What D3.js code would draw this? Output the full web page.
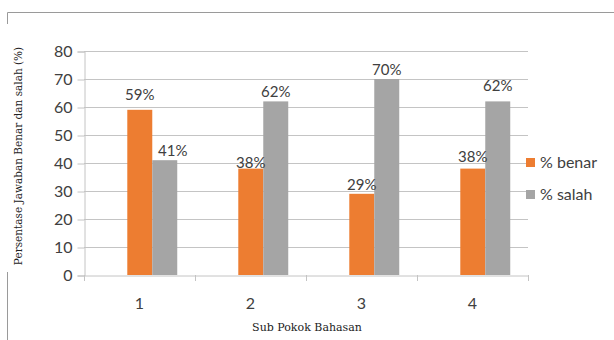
<!DOCTYPE html>
<html>
<head>
<meta charset="utf-8">
<script src="https://cdn.jsdelivr.net/npm/d3@7"></script>
<style>
  body { margin: 0; background: #fff; }
  svg { display: block; }
</style>
</head>
<body>
<div id="chart"></div>
<script>
// chart data
const categories = ["1", "2", "3", "4"];
const seriesNames = ["% benar", "% salah"];
const benar = [59, 38, 29, 38];
const salah = [41, 62, 70, 62];
const yTicks = [0, 10, 20, 30, 40, 50, 60, 70, 80];

const colors = { "% benar": "#ED7D31", "% salah": "#A5A5A5" };

// small hand tweaks of the data labels, as in the original
const labelNudge = {
  "% benar": [[0, -6], [0, 3], [0, 0], [0, -3]],
  "% salah": [[8, 0], [0, 0], [0, 0], [0, -6]]
};

const W = 614, H = 340;
const plot = { left: 84, right: 528, top: 51, bottom: 275 };

const svg = d3.select("#chart").append("svg")
  .attr("width", W)
  .attr("height", H);

// partial outer frame
svg.append("path")
  .attr("d", `M7.5,24 V12.5 H614`)
  .attr("fill", "none")
  .attr("stroke", "#9a9a9a");
svg.append("line")
  .attr("x1", 7.5).attr("x2", 7.5)
  .attr("y1", 272).attr("y2", 340)
  .attr("stroke", "#9a9a9a");

const x = d3.scaleBand()
  .domain(categories)
  .range([plot.left, plot.right]);

// bars sit a bit right of the band centre in the original
const x1 = d3.scaleBand()
  .domain(seriesNames)
  .range([x.bandwidth() * 0.39, x.bandwidth() * 0.84]);

const y = d3.scaleLinear()
  .domain([0, 80])
  .range([plot.bottom, plot.top]);

// gridlines
svg.append("g")
  .selectAll("line")
  .data(yTicks.filter(d => d > 0))
  .enter().append("line")
  .attr("x1", plot.left)
  .attr("x2", plot.right)
  .attr("y1", d => Math.round(y(d)) + 0.5)
  .attr("y2", d => Math.round(y(d)) + 0.5)
  .attr("stroke", "#c4c4c4");

// y axis
const yAxis = svg.append("g")
  .attr("transform", `translate(${plot.left + 0.5},0.5)`)
  .call(d3.axisLeft(y).tickValues(yTicks).tickSize(7).tickPadding(5));
yAxis.select(".domain").attr("stroke", "#c4c4c4");
yAxis.selectAll(".tick line").attr("stroke", "#c4c4c4");
yAxis.selectAll("text")
  .attr("fill", "#404040")
  .attr("font-family", "Lato, 'Open Sans', sans-serif")
  .attr("font-size", "16px");

// grouped data
const rows = categories.map((c, i) => ({
  cat: c,
  vals: [
    { name: seriesNames[0], value: benar[i], i: i },
    { name: seriesNames[1], value: salah[i], i: i }
  ]
}));

const groups = svg.append("g")
  .selectAll("g")
  .data(rows)
  .enter().append("g")
  .attr("transform", d => `translate(${x(d.cat)},0)`);

groups.selectAll("rect")
  .data(d => d.vals)
  .enter().append("rect")
  .attr("x", d => x1(d.name))
  .attr("y", d => y(d.value))
  .attr("width", x1.bandwidth())
  .attr("height", d => y(0) - y(d.value))
  .attr("fill", d => colors[d.name]);

groups.selectAll("text")
  .data(d => d.vals)
  .enter().append("text")
  .attr("x", d => x1(d.name) + x1.bandwidth() / 2 + labelNudge[d.name][d.i][0])
  .attr("y", d => y(d.value) - 4 + labelNudge[d.name][d.i][1])
  .attr("text-anchor", "middle")
  .attr("fill", "#404040")
  .attr("font-family", "Lato, 'Open Sans', sans-serif")
  .attr("font-size", "15px")
  .text(d => d.value + "%");

// x axis
const xAxis = svg.append("g")
  .attr("transform", `translate(0,${plot.bottom + 0.5})`)
  .call(d3.axisBottom(x).tickSize(0).tickPadding(22));
xAxis.select(".domain").attr("stroke", "#c4c4c4");
xAxis.selectAll("text")
  .attr("fill", "#404040")
  .attr("font-family", "Lato, 'Open Sans', sans-serif")
  .attr("font-size", "16px");

// category boundary ticks
svg.append("g")
  .selectAll("line")
  .data(categories.map(c => x(c)).concat([x(categories[categories.length - 1]) + x.bandwidth()]))
  .enter().append("line")
  .attr("x1", d => Math.round(d) + 0.5)
  .attr("x2", d => Math.round(d) + 0.5)
  .attr("y1", plot.bottom)
  .attr("y2", plot.bottom + 6)
  .attr("stroke", "#c4c4c4");

// axis titles
svg.append("text")
  .attr("transform", `translate(22,156) rotate(-90)`)
  .attr("text-anchor", "middle")
  .attr("fill", "#222")
  .attr("font-family", "'DejaVu Serif', serif")
  .attr("font-size", "10.5px")
  .text("Persentase Jawaban Benar dan salah  (%)");

svg.append("text")
  .attr("x", 307)
  .attr("y", 331)
  .attr("text-anchor", "middle")
  .attr("fill", "#222")
  .attr("font-family", "'DejaVu Serif', serif")
  .attr("font-size", "11px")
  .text("Sub Pokok Bahasan");

// legend
const legend = svg.append("g")
  .attr("transform", "translate(526,158)");
const li = legend.selectAll("g")
  .data(seriesNames)
  .enter().append("g")
  .attr("transform", (d, i) => `translate(0,${i * 32})`);
li.append("rect")
  .attr("width", 9)
  .attr("height", 9)
  .attr("fill", d => colors[d]);
li.append("text")
  .attr("x", 14)
  .attr("y", 10)
  .attr("fill", "#404040")
  .attr("font-family", "Lato, 'Open Sans', sans-serif")
  .attr("font-size", "16px")
  .text(d => d);
</script>
</body>
</html>
